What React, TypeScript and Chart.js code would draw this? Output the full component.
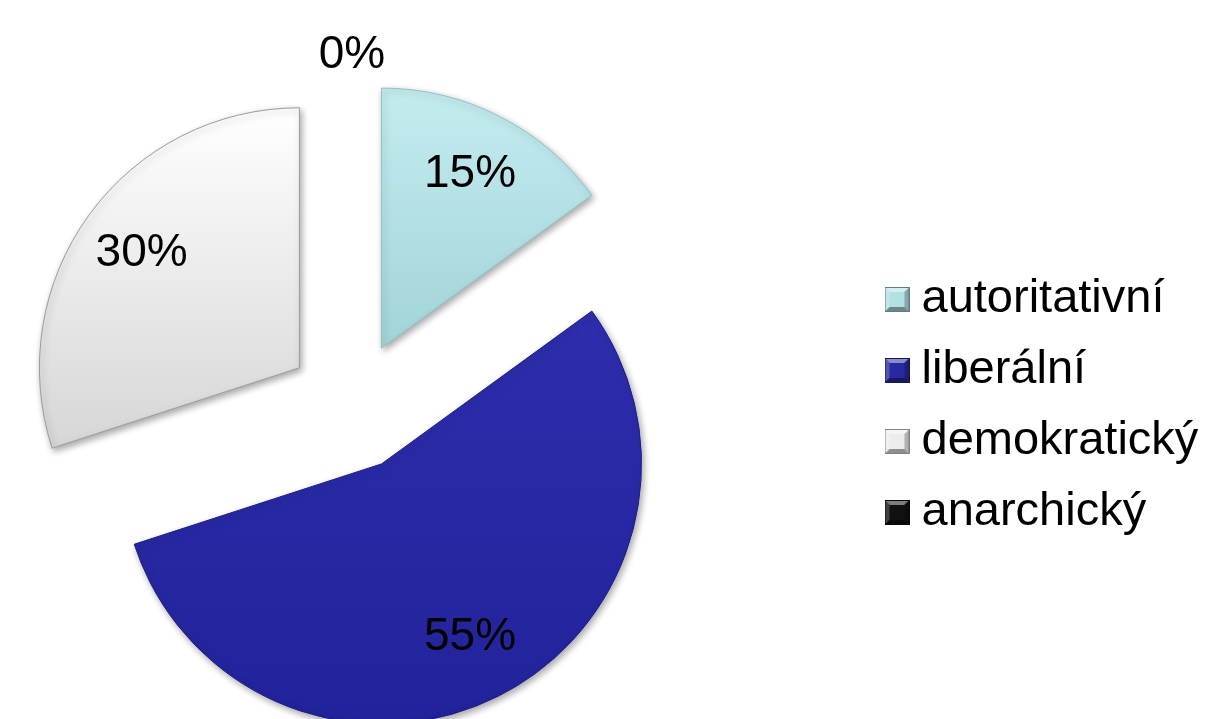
import React, { useEffect, useRef } from 'react';
import { Chart, registerables } from 'chart.js';

Chart.register(...registerables);

// ---- data ----
const categories = ['autoritativní', 'liberální', 'demokratický', 'anarchický'];
const values = [15, 55, 30, 0];

// ---- styles ----
const baseColors = ['#b3e0e3', '#2828a0', '#ececec', '#111111'];
const topColors = ['#c4ecef', '#2e2eae', '#ffffff', '#3a3a3a'];
const bottomColors = ['#a2d4d8', '#22229a', '#d6d6d6', '#000000'];
const borderColors = ['#8fc3c6', '#1c1c88', '#9c9c9c', '#000000'];

const EXPLODE = 65;
const RADIUS = 260;
const LEGEND_LEFT = 872;
const FONT_FAMILY = '"Liberation Sans", Arial, Helvetica, sans-serif';

function shade(hex: string, f: number): string {
  const n = parseInt(hex.slice(1), 16);
  let r = (n >> 16) & 255, g = (n >> 8) & 255, b = n & 255;
  const adj = (c: number) => (f >= 0 ? Math.round(c + (255 - c) * f) : Math.round(c * (1 + f)));
  r = adj(r); g = adj(g); b = adj(b);
  return `rgb(${r},${g},${b})`;
}

function makeMarker(base: string): HTMLCanvasElement {
  const c = document.createElement('canvas');
  const s = 25, b = 5;
  c.width = s; c.height = s;
  const g = c.getContext('2d')!;
  const poly = (pts: number[][], col: string) => {
    g.beginPath();
    g.moveTo(pts[0][0], pts[0][1]);
    for (let i = 1; i < pts.length; i++) g.lineTo(pts[i][0], pts[i][1]);
    g.closePath();
    g.fillStyle = col;
    g.fill();
  };
  g.fillStyle = base;
  g.fillRect(0, 0, s, s);
  poly([[0, 0], [s, 0], [s - b, b], [b, b]], shade(base, 0.45));
  poly([[0, 0], [b, b], [b, s - b], [0, s]], shade(base, 0.2));
  poly([[s, 0], [s, s], [s - b, s - b], [s - b, b]], shade(base, -0.25));
  poly([[0, s], [s, s], [s - b, s - b], [b, s - b]], shade(base, -0.4));
  g.strokeStyle = shade(base, -0.45);
  g.lineWidth = 1;
  g.strokeRect(0.5, 0.5, s - 1, s - 1);
  return c;
}

function sectorYExtent(x: number, y: number, r: number, a0: number, a1: number) {
  const ys = [y, y + Math.sin(a0) * r, y + Math.sin(a1) * r];
  [-Math.PI / 2, Math.PI / 2, (3 * Math.PI) / 2].forEach((k) => {
    if (k >= a0 && k <= a1) ys.push(y + Math.sin(k) * r);
  });
  return [Math.min(...ys), Math.max(...ys)];
}

const legendPlacePlugin = {
  id: 'legendPlace',
  afterLayout(chart: any) {
    const lg = chart.legend;
    if (!lg) return;
    lg.left = LEGEND_LEFT;
    lg.right = chart.width;
    lg.width = lg.right - lg.left;
  },
};

const explodePlugin = {
  id: 'explodeSlices',
  beforeDatasetDraw(chart: any, args: any) {
    const ctx: CanvasRenderingContext2D = chart.ctx;
    const meta = args.meta;
    meta.data.forEach((arc: any, i: number) => {
      const p = arc.getProps(['startAngle', 'endAngle', 'x', 'y', 'outerRadius', 'circumference'], true);
      if (!p.circumference) return;
      const mid = (p.startAngle + p.endAngle) / 2;
      const [minY, maxY] = sectorYExtent(p.x, p.y, p.outerRadius, p.startAngle, p.endAngle);
      const grad = ctx.createLinearGradient(0, minY, 0, maxY);
      grad.addColorStop(0, topColors[i]);
      grad.addColorStop(1, bottomColors[i]);
      const saved = arc.options;
      arc.options = Object.assign({}, saved, { backgroundColor: grad });
      ctx.save();
      ctx.translate(Math.cos(mid) * EXPLODE, Math.sin(mid) * EXPLODE);
      ctx.shadowColor = 'rgba(0,0,0,0.35)';
      ctx.shadowBlur = 7;
      ctx.shadowOffsetX = 2;
      ctx.shadowOffsetY = 3;
      arc.draw(ctx);
      ctx.restore();
      arc.options = saved;
    });
    return false;
  },
};

const labelPlugin = {
  id: 'sliceLabels',
  afterDraw(chart: any) {
    const ctx: CanvasRenderingContext2D = chart.ctx;
    const meta = chart.getDatasetMeta(0);
    const data = chart.data.datasets[0].data as number[];
    const total = data.reduce((a, b) => a + b, 0);
    ctx.save();
    ctx.font = `46px ${FONT_FAMILY}`;
    ctx.fillStyle = '#000';
    ctx.textAlign = 'center';
    ctx.textBaseline = 'middle';
    meta.data.forEach((arc: any, i: number) => {
      const p = arc.getProps(['startAngle', 'endAngle', 'x', 'y', 'outerRadius'], true);
      const mid = (p.startAngle + p.endAngle) / 2;
      const dist = EXPLODE + p.outerRadius * (data[i] === 0 ? 1.1 : 0.75);
      const text = Math.round((data[i] / total) * 100) + '%';
      ctx.fillText(text, p.x + Math.cos(mid) * dist, p.y + Math.sin(mid) * dist);
    });
    ctx.restore();
  },
};

export default function App() {
  const ref = useRef<HTMLCanvasElement>(null);

  useEffect(() => {
    const canvas = ref.current;
    if (!canvas) return;
    const markers = baseColors.map((c) => makeMarker(c));
    const chart = new Chart(canvas, {
      type: 'pie',
      data: {
        labels: categories,
        datasets: [
          {
            data: values,
            backgroundColor: baseColors,
            borderColor: borderColors,
            borderWidth: 1,
            radius: RADIUS,
          } as any,
        ],
      },
      options: {
        responsive: false,
        animation: false,
        events: [],
        layout: { padding: { left: 0, right: 201, top: 93, bottom: 0 } },
        plugins: {
          legend: {
            position: 'right',
            maxWidth: 300,
            labels: {
              usePointStyle: true,
              boxWidth: 2,
              padding: 24,
              color: '#000',
              font: { size: 47, family: FONT_FAMILY },
              generateLabels: () =>
                categories.map((text, i) => ({
                  text,
                  fillStyle: baseColors[i],
                  strokeStyle: baseColors[i],
                  lineWidth: 0,
                  pointStyle: markers[i],
                  hidden: false,
                  index: i,
                  fontColor: '#000',
                })),
            },
          },
          tooltip: { enabled: false },
        },
      } as any,
      plugins: [legendPlacePlugin, explodePlugin, labelPlugin],
    });
    return () => chart.destroy();
  }, []);

  return (
    <div style={{ position: 'absolute', left: 0, top: 0, width: 1205, height: 719, background: '#fff' }}>
      <canvas ref={ref} width={1205} height={719} style={{ display: 'block' }} />
    </div>
  );
}
